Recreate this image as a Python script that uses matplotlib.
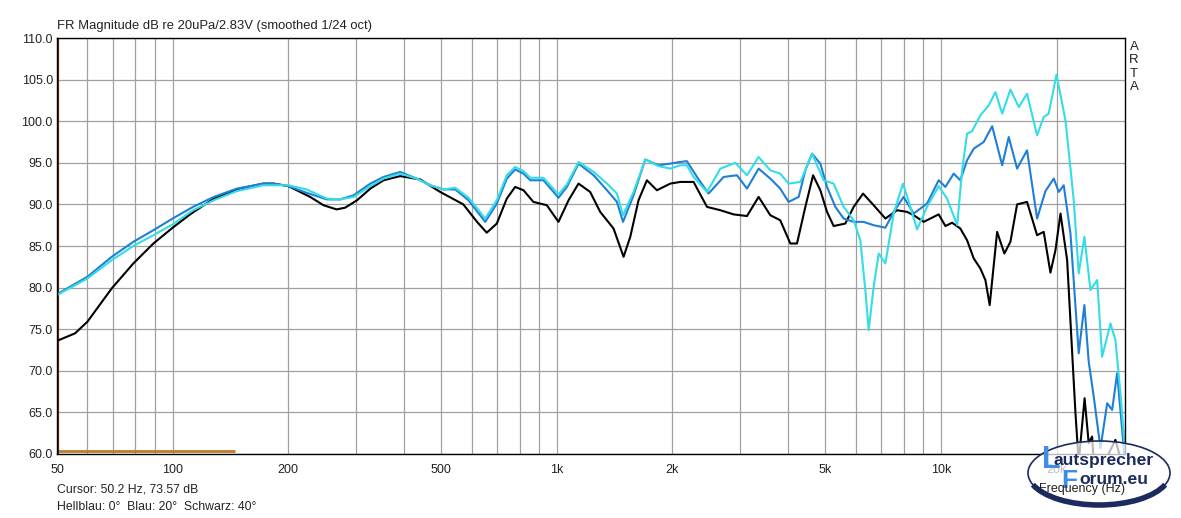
import matplotlib
matplotlib.use("Agg")
import matplotlib.pyplot as plt
from matplotlib.patches import Ellipse, Arc
from matplotlib.ticker import FixedLocator, FixedFormatter, NullFormatter

plt.rcParams['font.family'] = ['Liberation Sans', 'DejaVu Sans']

# black curve (Schwarz 40 deg)
freq_black = [50, 55.7, 60, 69.4, 79, 89.1, 100, 111, 128, 147, 172, 183, 200, 228, 247, 267, 281,
              302, 327, 354, 391, 441, 497, 571, 620, 657, 698, 741, 779, 819, 869, 942, 1010,
              1073, 1139, 1221, 1297, 1405, 1492, 1553, 1632, 1716, 1822, 1974, 2096, 2270, 2460,
              2665, 2885, 3126, 3352, 3595, 3815, 4054, 4219, 4435, 4646, 4852, 5051, 5255, 5636,
              5925, 6268, 6680, 7166, 7684, 8160, 8490, 9016, 9862, 10270, 10690, 11230, 11690,
              12170, 12660, 13050, 13390, 14000, 14620, 15160, 15780, 16750, 17790, 18510, 19270,
              19860, 20470, 21300, 22390, 22830, 23650, 24240, 24740, 24980, 26000, 28450, 29320,
              30130]
db_black = [73.6, 74.5, 75.9, 79.9, 82.9, 85.3, 87.2, 88.8, 90.7, 91.8, 92.5, 92.5, 92.2, 90.9, 89.9,
            89.4, 89.6, 90.5, 91.9, 92.9, 93.4, 93.0, 91.5, 90.0, 87.9, 86.6, 87.7, 90.7, 92.1,
            91.7, 90.3, 89.9, 87.9, 90.5, 92.5, 91.5, 89.1, 87.1, 83.7, 86.1, 90.5, 92.9, 91.7,
            92.5, 92.7, 92.7, 89.7, 89.3, 88.8, 88.6, 90.9, 88.7, 88.1, 85.3, 85.3, 89.7, 93.5,
            91.7, 89.1, 87.4, 87.7, 89.7, 91.3, 89.9, 88.3, 89.3, 89.1, 88.7, 87.9, 88.8, 87.4,
            87.8, 87.1, 85.7, 83.5, 82.3, 80.9, 77.9, 86.7, 84.1, 85.5, 90.0, 90.3, 86.3, 86.7,
            81.8, 84.5, 88.9, 83.3, 64.9, 59.0, 66.7, 61.3, 62.1, 59.0, 58.0, 61.7, 59.5, 58.0]

# blue curve (Blau 20 deg)
freq_blue = [50, 60, 69.4, 79, 89.1, 100, 113, 128, 147, 172, 183, 200, 223, 252, 273, 296, 327,
             354, 391, 432, 468, 507, 544, 589, 651, 698, 741, 779, 819, 853, 923, 1010, 1062,
             1139, 1247, 1351, 1434, 1487, 1584, 1699, 1840, 1974, 2096, 2180, 2317, 2483, 2718,
             2945, 3126, 3352, 3595, 3815, 4012, 4262, 4435, 4617, 4852, 5051, 5310, 5580, 5925,
             6285, 6680, 7166, 7531, 7992, 8490, 9200, 9862, 10270, 10790, 11230, 11690, 12170,
             12920, 13590, 14430, 15010, 15780, 16750, 17790, 18700, 19660, 20260, 20870, 21730,
             22830, 23620, 24240, 24980, 26010, 27080, 27900, 28740, 29910, 30130]
db_blue = [79.2, 81.3, 83.7, 85.5, 86.9, 88.3, 89.7, 90.9, 91.9, 92.5, 92.5, 92.2, 91.4, 90.6, 90.6,
           91.1, 92.5, 93.3, 93.9, 93.1, 92.3, 91.8, 91.8, 90.5, 87.9, 90.1, 93.1, 94.2, 93.7,
           92.9, 92.9, 90.8, 92.1, 94.9, 93.5, 91.7, 90.3, 87.9, 91.1, 95.4, 94.7, 94.9, 95.1,
           95.2, 93.3, 91.3, 93.3, 93.5, 91.9, 94.3, 93.1, 91.9, 90.3, 90.9, 94.1, 96.1, 94.9,
           92.1, 89.7, 88.3, 87.9, 87.9, 87.5, 87.2, 89.1, 90.9, 88.9, 90.1, 92.9, 92.1, 93.7,
           92.9, 95.3, 96.7, 97.5, 99.4, 94.7, 98.1, 94.3, 96.5, 88.3, 91.6, 93.1, 91.5, 92.3,
           86.5, 72.1, 77.9, 71.1, 66.9, 60.7, 66.1, 65.3, 69.7, 60.7, 59.0]

# light blue curve (Hellblau 0 deg)
freq_cyan = [50, 60, 69.4, 79, 89.1, 100, 113, 128, 147, 172, 200, 223, 252, 273, 296, 327, 354,
             391, 432, 468, 507, 544, 589, 651, 698, 741, 779, 819, 853, 923, 1010, 1062, 1139,
             1247, 1351, 1434, 1487, 1584, 1699, 1840, 1974, 2096, 2180, 2270, 2460, 2665, 2915,
             3126, 3352, 3595, 3815, 4012, 4305, 4617, 4949, 5255, 5580, 5925, 6165, 6355, 6484,
             6680, 6884, 7166, 7531, 7963, 8323, 8665, 9200, 9862, 10370, 11020, 11350, 11690,
             12050, 12660, 13310, 13860, 14430, 15160, 15940, 16750, 17790, 18510, 19070, 19980,
             21090, 22160, 22830, 23620, 24490, 25500, 26270, 27620, 28450, 29320, 30130]
db_cyan = [79.1, 81.1, 83.3, 85.0, 86.3, 87.6, 89.3, 90.5, 91.6, 92.3, 92.3, 91.8, 90.7, 90.6, 90.9,
           92.2, 93.1, 93.7, 93.1, 92.3, 91.8, 92.0, 90.8, 88.3, 90.5, 93.5, 94.5, 94.0, 93.2,
           93.2, 91.2, 92.4, 95.1, 93.9, 92.5, 91.3, 88.7, 91.5, 95.4, 94.6, 94.3, 94.7, 94.7,
           93.3, 91.5, 94.3, 95.0, 93.5, 95.7, 94.1, 93.7, 92.5, 92.7, 96.1, 92.9, 92.5, 89.7,
           88.1, 85.7, 79.7, 74.9, 80.1, 84.1, 82.9, 88.9, 92.5, 89.7, 87.0, 89.7, 92.2, 90.7,
           87.5, 94.1, 98.5, 98.8, 100.7, 101.9, 103.5, 100.9, 103.8, 101.7, 103.3, 98.3, 100.5,
           100.9, 105.6, 100.1, 90.5, 81.7, 86.1, 79.7, 80.9, 71.7, 75.7, 73.7, 67.3, 60.5]

x_ticks = [50, 100, 200, 500, 1000, 2000, 5000, 10000, 20000]
x_tick_labels = ['50', '100', '200', '500', '1k', '2k', '5k', '10k', '20k']
x_grid = [60, 70, 80, 90, 300, 400, 600, 700, 800, 900, 3000, 4000, 6000, 7000, 8000, 9000]
y_ticks = [60, 65, 70, 75, 80, 85, 90, 95, 100, 105, 110]
marker_freq = [50, 145]
marker_db = [60.4, 60.4]

fig = plt.figure(figsize=(11.81, 5.18), dpi=100)
ax = fig.add_axes([57 / 1181, 64 / 518, 1068 / 1181, 416 / 518])
ax.set_xscale('log')
ax.set_xlim(50, 30130)
ax.set_ylim(60, 110)

ax.xaxis.set_major_locator(FixedLocator(x_ticks))
ax.xaxis.set_major_formatter(FixedFormatter(x_tick_labels))
ax.xaxis.set_minor_locator(FixedLocator(x_grid))
ax.xaxis.set_minor_formatter(NullFormatter())
ax.set_yticks(y_ticks)
ax.set_yticklabels(['%.1f' % v for v in y_ticks])
ax.tick_params(which='both', length=0, labelsize=9, colors='#222222')
ax.tick_params(axis='x', pad=7)
ax.tick_params(axis='y', pad=3)
ax.grid(True, which='both', color='#a0a0a0', lw=0.9)
for s in ax.spines.values():
    s.set_color('black')
    s.set_linewidth(1.0)

ax.plot(marker_freq, marker_db, color='#c07a28', lw=2.0, solid_capstyle='butt')
ax.axvline(50.2, color='#6a2a0a', lw=1.6)
ax.plot(freq_black, db_black, color='black', lw=1.5)
ax.plot(freq_blue, db_blue, color='#1f7fd6', lw=1.5)
ax.plot(freq_cyan, db_cyan, color='#33dde6', lw=1.5)

fig.text(57 / 1181, 1 - 26 / 518, 'FR Magnitude dB re 20uPa/2.83V (smoothed 1/24 oct)',
         fontsize=9.4, va='center', ha='left', color='#222222')
fig.text(1134 / 1181, 1 - 67 / 518, 'A\nR\nT\nA', fontsize=9.5, va='center', ha='center',
         linespacing=1.12, color='#222222')
fig.text(57 / 1181, 1 - 490 / 518, 'Cursor: 50.2 Hz, 73.57 dB', fontsize=8.8, va='center',
         ha='left', color='#222222')
fig.text(57 / 1181, 1 - 507 / 518, 'Hellblau: 0\u00b0  Blau: 20\u00b0  Schwarz: 40\u00b0',
         fontsize=8.8, va='center', ha='left', color='#222222')
fig.text(1125 / 1181, 1 - 489 / 518, 'Frequency (Hz)', fontsize=9, va='center', ha='right',
         color='#222222')

# forum logo overlay, in pixel coordinates
lx = fig.add_axes([0, 0, 1, 1])
lx.set_xlim(0, 1181)
lx.set_ylim(518, 0)
lx.axis('off')
lx.add_patch(Ellipse((1099, 473), 142, 64, facecolor='white', alpha=0.72, edgecolor='none'))
lx.add_patch(Ellipse((1099, 473), 142, 64, facecolor='none', edgecolor='#1c2b5e', lw=1.2))
lx.add_patch(Arc((1099, 473), 142, 64, theta1=10, theta2=170, color='#1c2b5e', lw=4.0))
lx.text(1042, 460, 'L', fontsize=22, fontweight='bold', color='#3d8ee4', va='center', ha='left')
lx.text(1061, 481, 'F', fontsize=19, fontweight='bold', color='#3d8ee4', va='center', ha='left')
lx.text(1053, 461, 'autsprecher', fontsize=12.6, fontweight='bold', color='#1c2b5e',
        va='center', ha='left')
lx.text(1079, 479, 'orum.eu', fontsize=12.6, fontweight='bold', color='#1c2b5e',
        va='center', ha='left')

fig.savefig('out.png', dpi=100, facecolor='white')
